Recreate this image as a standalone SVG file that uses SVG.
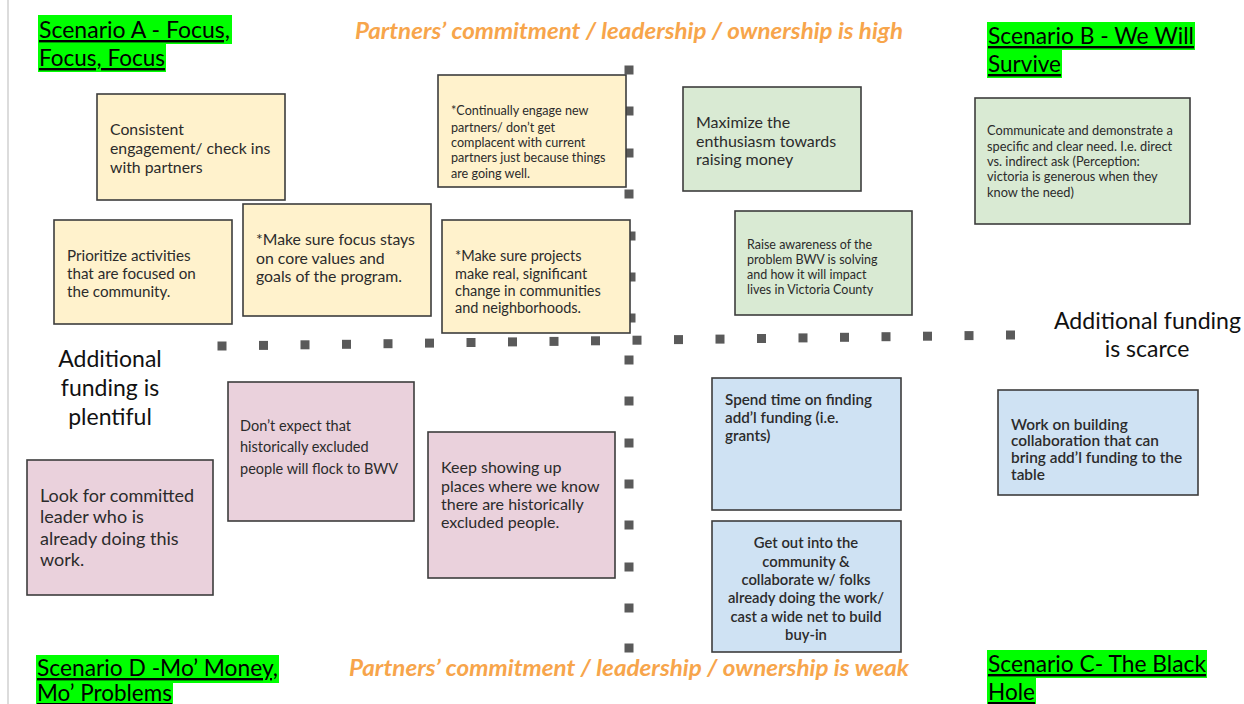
<svg xmlns="http://www.w3.org/2000/svg" width="1244" height="704" viewBox="0 0 1244 704">
<style>
.bx{stroke:#3d3d3d;stroke-width:1.6}
.y{fill:#fff2cc}.g{fill:#d9ead3}.p{fill:#ead1dc}.b{fill:#cfe2f3}
.t{font-family:Lato,"Open Sans","Liberation Sans",sans-serif;fill:#2b2b2b}
.sb{font-weight:600}
.hl{fill:#00ff00}
.ti{font-family:Lato,"Open Sans","Liberation Sans",sans-serif;font-size:24px;fill:#000;text-decoration:underline}
.or{font-family:Lato,"Open Sans","Liberation Sans",sans-serif;font-size:22px;font-weight:bold;font-style:italic;fill:#f7a54b}
.ax{font-family:Lato,"Open Sans","Liberation Sans",sans-serif;font-size:23px;fill:#111}
.d{fill:#5a5a5a}
</style>
<defs><rect id="dot" x="-4.5" y="-4.5" width="9" height="9" class="d"/></defs>
<rect width="1244" height="704" fill="#fff"/>
<line x1="8" y1="0" x2="8" y2="704" stroke="#d0d0d0" stroke-width="1.5"/>

<g id="connectors">
<g id="vertical-axis">
<use href="#dot" x="629" y="70"/><use href="#dot" x="629" y="111"/><use href="#dot" x="629" y="153"/><use href="#dot" x="629" y="194"/><use href="#dot" x="631" y="236"/><use href="#dot" x="631" y="277"/><use href="#dot" x="631" y="318"/><use href="#dot" x="629" y="360"/><use href="#dot" x="629" y="401"/><use href="#dot" x="629" y="443"/><use href="#dot" x="629" y="484"/><use href="#dot" x="629" y="525"/><use href="#dot" x="629" y="567"/><use href="#dot" x="629" y="608"/><use href="#dot" x="629" y="648"/>
</g>
<g id="horizontal-axis">
<use href="#dot" x="222" y="346"/><use href="#dot" x="263.5" y="345.4"/><use href="#dot" x="305" y="344.8"/><use href="#dot" x="346.5" y="344.3"/><use href="#dot" x="388" y="343.7"/><use href="#dot" x="429.5" y="343.1"/><use href="#dot" x="471" y="342.5"/><use href="#dot" x="512.5" y="341.9"/><use href="#dot" x="554" y="341.4"/><use href="#dot" x="595.5" y="340.8"/><use href="#dot" x="637" y="340.2"/><use href="#dot" x="678.5" y="339.6"/><use href="#dot" x="720" y="339.1"/><use href="#dot" x="761.5" y="338.5"/><use href="#dot" x="803" y="337.9"/><use href="#dot" x="844.5" y="337.3"/><use href="#dot" x="886" y="336.7"/><use href="#dot" x="927.5" y="336.2"/><use href="#dot" x="969" y="335.6"/><use href="#dot" x="1010.5" y="335"/>
</g>
</g>

<g id="title-a">
<rect class="hl" x="38" y="15" width="194" height="29"/><rect class="hl" x="38" y="44" width="128" height="28"/>
<text class="ti" x="39" y="38" textLength="191" lengthAdjust="spacingAndGlyphs">Scenario A - Focus,</text>
<text class="ti" x="39" y="66" textLength="126" lengthAdjust="spacingAndGlyphs">Focus, Focus</text>
</g>
<g id="title-b">
<rect class="hl" x="987" y="22" width="208" height="28"/><rect class="hl" x="987" y="50" width="75" height="28"/>
<text class="ti" x="988" y="44" textLength="206" lengthAdjust="spacingAndGlyphs">Scenario B - We Will</text>
<text class="ti" x="988" y="72" textLength="73" lengthAdjust="spacingAndGlyphs">Survive</text>
</g>
<g id="title-d">
<rect class="hl" x="36" y="655" width="243" height="28"/><rect class="hl" x="36" y="683" width="137" height="21"/>
<text class="ti" x="37" y="676" textLength="241" lengthAdjust="spacingAndGlyphs">Scenario D -Mo’ Money,</text>
<text class="ti" font-size="23" x="37" y="701" textLength="135" lengthAdjust="spacingAndGlyphs">Mo’ Problems</text>
</g>
<g id="title-c">
<rect class="hl" x="987" y="650" width="220" height="28"/><rect class="hl" x="987" y="678" width="49" height="26"/>
<text class="ti" x="988" y="672" textLength="218" lengthAdjust="spacingAndGlyphs">Scenario C- The Black</text>
<text class="ti" x="988" y="700" textLength="47" lengthAdjust="spacingAndGlyphs">Hole</text>
</g>

<g id="header-high"><text class="or" x="355" y="39" textLength="548" lengthAdjust="spacingAndGlyphs">Partners’ commitment / leadership / ownership is high</text></g>
<g id="header-weak"><text class="or" x="349" y="676" textLength="560" lengthAdjust="spacingAndGlyphs">Partners’ commitment / leadership / ownership is weak</text></g>

<g id="label-plentiful">
<text class="ax" text-anchor="middle" x="110" y="367">Additional</text>
<text class="ax" text-anchor="middle" x="110" y="396">funding is</text>
<text class="ax" text-anchor="middle" x="110" y="425">plentiful</text>
</g>
<g id="label-scarce">
<text class="ax" x="1054" y="329" textLength="187" lengthAdjust="spacingAndGlyphs">Additional funding</text>
<text class="ax" text-anchor="middle" x="1147" y="357">is scarce</text>
</g>

<g id="n-consistent">
<rect class="bx y" x="97" y="94" width="188" height="106"/>
<text class="t" font-size="15.8" x="110"><tspan x="110" y="135">Consistent</tspan><tspan x="110" y="154">engagement/ check ins</tspan><tspan x="110" y="173">with partners</tspan></text>
</g>
<g id="n-continually">
<rect class="bx y" x="438" y="75" width="188" height="112"/>
<text class="t" font-size="12.6" x="451"><tspan x="451" y="115">*Continually engage new</tspan><tspan x="451" y="132">partners/ don’t get</tspan><tspan x="451" y="147">complacent with current</tspan><tspan x="451" y="162">partners just because things</tspan><tspan x="451" y="178">are going well.</tspan></text>
</g>
<g id="n-prioritize">
<rect class="bx y" x="54" y="220" width="178" height="104"/>
<text class="t" font-size="15.2" x="67"><tspan x="67" y="261">Prioritize activities</tspan><tspan x="67" y="279">that are focused on</tspan><tspan x="67" y="297">the community.</tspan></text>
</g>
<g id="n-focus">
<rect class="bx y" x="243" y="204" width="188" height="112"/>
<text class="t" font-size="15.8" x="256"><tspan x="256" y="245">*Make sure focus stays</tspan><tspan x="256" y="264">on core values and</tspan><tspan x="256" y="282">goals of the program.</tspan></text>
</g>
<g id="n-projects">
<rect class="bx y" x="442" y="220" width="188" height="113"/>
<text class="t" font-size="14.5" x="455"><tspan x="455" y="261">*Make sure projects</tspan><tspan x="455" y="279">make real, significant</tspan><tspan x="455" y="296">change in communities</tspan><tspan x="455" y="313">and neighborhoods.</tspan></text>
</g>

<g id="n-maximize">
<rect class="bx g" x="683" y="87" width="178" height="104"/>
<text class="t" font-size="16" x="696"><tspan x="696" y="128">Maximize the</tspan><tspan x="696" y="147">enthusiasm towards</tspan><tspan x="696" y="165">raising money</tspan></text>
</g>
<g id="n-communicate">
<rect class="bx g" x="975" y="98" width="215" height="126"/>
<text class="t" font-size="12.8" x="987"><tspan x="987" y="135">Communicate and demonstrate a</tspan><tspan x="987" y="151">specific and clear need.  I.e. direct</tspan><tspan x="987" y="166">vs. indirect ask (Perception:</tspan><tspan x="987" y="181">victoria is generous when they</tspan><tspan x="987" y="197">know the need)</tspan></text>
</g>
<g id="n-raise">
<rect class="bx g" x="735" y="211" width="177" height="104"/>
<text class="t" font-size="12.5" x="747"><tspan x="747" y="249">Raise awareness of the</tspan><tspan x="747" y="264">problem BWV is solving</tspan><tspan x="747" y="279">and how it will  impact</tspan><tspan x="747" y="294">lives in Victoria County</tspan></text>
</g>

<g id="n-look">
<rect class="bx p" x="27" y="460" width="186" height="135"/>
<text class="t" font-size="18" x="40"><tspan x="40" y="502">Look for committed</tspan><tspan x="40" y="523">leader who is</tspan><tspan x="40" y="545">already doing this</tspan><tspan x="40" y="566">work.</tspan></text>
</g>
<g id="n-dont">
<rect class="bx p" x="228" y="382" width="186" height="139"/>
<text class="t" font-size="14.5" x="240"><tspan x="240" y="431">Don’t expect that</tspan><tspan x="240" y="452">historically excluded</tspan><tspan x="240" y="474">people will flock to BWV</tspan></text>
</g>
<g id="n-keep">
<rect class="bx p" x="428" y="432" width="187" height="146"/>
<text class="t" font-size="16" x="441"><tspan x="441" y="473">Keep showing up</tspan><tspan x="441" y="492">places where we know</tspan><tspan x="441" y="510">there are historically</tspan><tspan x="441" y="528">excluded people.</tspan></text>
</g>

<g id="n-spend">
<rect class="bx b" x="712" y="378" width="189" height="132"/>
<text class="t sb" font-size="15.2" x="725"><tspan x="725" y="405">Spend time on finding</tspan><tspan x="725" y="423">add’l funding (i.e.</tspan><tspan x="725" y="441">grants)</tspan></text>
</g>
<g id="n-work">
<rect class="bx b" x="998" y="390" width="200" height="105"/>
<text class="t sb" font-size="15.4" x="1011"><tspan x="1011" y="430">Work on building</tspan><tspan x="1011" y="446">collaboration that can</tspan><tspan x="1011" y="463">bring add’l funding to the</tspan><tspan x="1011" y="480">table</tspan></text>
</g>
<g id="n-getout">
<rect class="bx b" x="712" y="521" width="189" height="131"/>
<text class="t sb" font-size="14.8" text-anchor="middle" x="806"><tspan x="806" y="548">Get out into the</tspan><tspan x="806" y="567">community &amp;</tspan><tspan x="806" y="585">collaborate w/ folks</tspan><tspan x="806" y="603">already doing the work/</tspan><tspan x="806" y="622">cast a wide net to build</tspan><tspan x="806" y="640">buy-in</tspan></text>
</g>
</svg>
